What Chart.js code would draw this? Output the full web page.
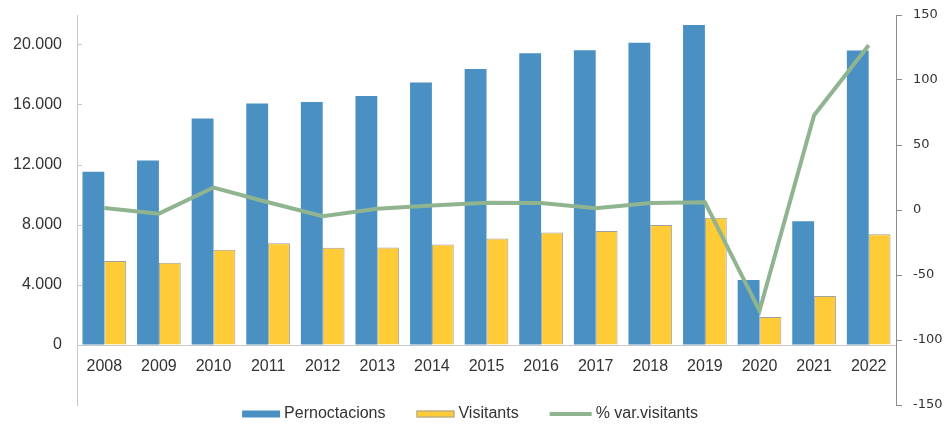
<!DOCTYPE html>
<html>
<head>
<meta charset="utf-8">
<script src="https://cdn.jsdelivr.net/npm/chart.js@4"></script>
<style>
  html, body { margin: 0; padding: 0; background: #fff; }
  #wrap { width: 944px; height: 425px; }
</style>
</head>
<body>
<div id="wrap"><canvas id="grafic"></canvas></div>
<script>
const anys = ['2008','2009','2010','2011','2012','2013','2014','2015','2016','2017','2018','2019','2020','2021','2022']
const pernoctacions = [11550, 12300, 15100, 16100, 16200, 16600, 17500, 18400, 19450, 19650, 20150, 21330, 4330, 8250, 19640]
const visitants = [5600, 5480, 6350, 6780, 6490, 6500, 6700, 7100, 7500, 7600, 8000, 8490, 1870, 3270, 7380]
const varVisitants = [1.6, -2.8, 17.3, 6.0, -4.8, 0.9, 3.5, 5.5, 5.3, 1.4, 5.3, 6.0, -77.5, 72.9, 126.8]
const ticksEsquerra = [0, 4000, 8000, 12000, 16000, 20000]

const blau = '#4a90c3'
const groc = '#ffcb36'
const verd = '#8fb48f'

function format(v) {
    return v.toString().replace(/\B(?=(\d{3})+(?!\d))/g, '.')
}

// llegenda dibuixada a ma sota el grafic
const llegenda = {
    id: 'llegenda',
    afterDraw(chart) {
        const ctx = chart.ctx
        const ds = chart.data.datasets
        const y = 414
        ctx.save()
        ctx.font = '16px "Liberation Sans", Arial, sans-serif'
        ctx.textBaseline = 'middle'
        ctx.fillStyle = '#333'
        const amples = ds.map(d => (d.type === 'line' ? 42 : 38) + 4 + ctx.measureText(d.label).width)
        const total = amples.reduce((a, b) => a + b, 0) + 31 * (ds.length - 1)
        let x = 470 - total / 2
        ds.forEach((d, i) => {
            if (d.type === 'line') {
                ctx.strokeStyle = d.borderColor
                ctx.lineWidth = 4
                ctx.beginPath()
                ctx.moveTo(x, y)
                ctx.lineTo(x + 42, y)
                ctx.stroke()
                x += 42
            } else {
                ctx.fillStyle = d.backgroundColor
                ctx.fillRect(x, y - 3.5, 38, 7)
                if (d.borderWidth) {
                    ctx.strokeStyle = d.borderColor
                    ctx.lineWidth = 1
                    ctx.strokeRect(x + 0.5, y - 3, 37, 6)
                }
                x += 38
            }
            ctx.fillStyle = '#333'
            ctx.fillText(d.label, x + 4, y)
            x += amples[i] - (d.type === 'line' ? 42 : 38) + 31
        })
        ctx.restore()
    }
}

const grafic = new Chart(document.getElementById('grafic'), {
    type: 'bar',
    data: {
        labels: anys,
        datasets: [
            {
                label: 'Pernoctacions',
                data: pernoctacions,
                backgroundColor: blau,
                borderWidth: 0,
                yAxisID: 'y',
                categoryPercentage: 0.8,
                barPercentage: 1.0,
                order: 1
            },
            {
                label: 'Visitants',
                data: visitants,
                backgroundColor: groc,
                borderColor: '#a0a0a0',
                borderWidth: 1,
                yAxisID: 'y',
                categoryPercentage: 0.8,
                barPercentage: 1.0,
                order: 1
            },
            {
                type: 'line',
                label: '% var.visitants',
                data: varVisitants,
                borderColor: verd,
                backgroundColor: verd,
                borderWidth: 4,
                pointRadius: 0,
                tension: 0,
                yAxisID: 'y1',
                order: 0
            }
        ]
    },
    options: {
        responsive: true,
        maintainAspectRatio: false,
        animation: false,
        layout: { padding: { top: 15, bottom: 20, left: 0, right: 0 } },
        plugins: {
            legend: { display: false },
            tooltip: { enabled: false }
        },
        scales: {
            x: {
                position: { y: 0 },
                grid: { display: false, drawTicks: false },
                border: { display: true, color: '#c8c8c8', dash: [2, 2] },
                ticks: {
                    color: '#333',
                    padding: 12,
                    font: { family: '"Liberation Sans", Arial, sans-serif', size: 16 }
                }
            },
            y: {
                position: 'left',
                min: -4000,
                max: 22000,
                afterBuildTicks: scale => {
                    scale.ticks = [-4000].concat(ticksEsquerra, [22000]).map(v => ({ value: v }))
                },
                afterFit: scale => {
                    scale.width = 77
                    scale.paddingTop = 0
                    scale.paddingBottom = 0
                },
                grid: { drawOnChartArea: false, drawTicks: true, tickLength: -5, color: '#c8c8c8' },
                border: { display: true, color: '#c8c8c8', dash: [2, 2] },
                ticks: {
                    color: '#333',
                    padding: 20,
                    font: { family: '"Liberation Sans", Arial, sans-serif', size: 16 },
                    callback: v => ticksEsquerra.includes(v) ? format(v) : null
                }
            },
            y1: {
                position: 'right',
                min: -150,
                max: 150,
                afterFit: scale => {
                    scale.width = 48
                    scale.paddingTop = 0
                    scale.paddingBottom = 0
                },
                grid: { drawOnChartArea: false, drawTicks: true, tickLength: 6, color: '#8c8c8c' },
                border: { display: true, color: '#8c8c8c' },
                ticks: {
                    stepSize: 50,
                    color: '#333',
                    padding: 11,
                    font: { family: '"DejaVu Sans", Verdana, sans-serif', size: 13 }
                }
            }
        }
    },
    plugins: [llegenda]
})
</script>
</body>
</html>
